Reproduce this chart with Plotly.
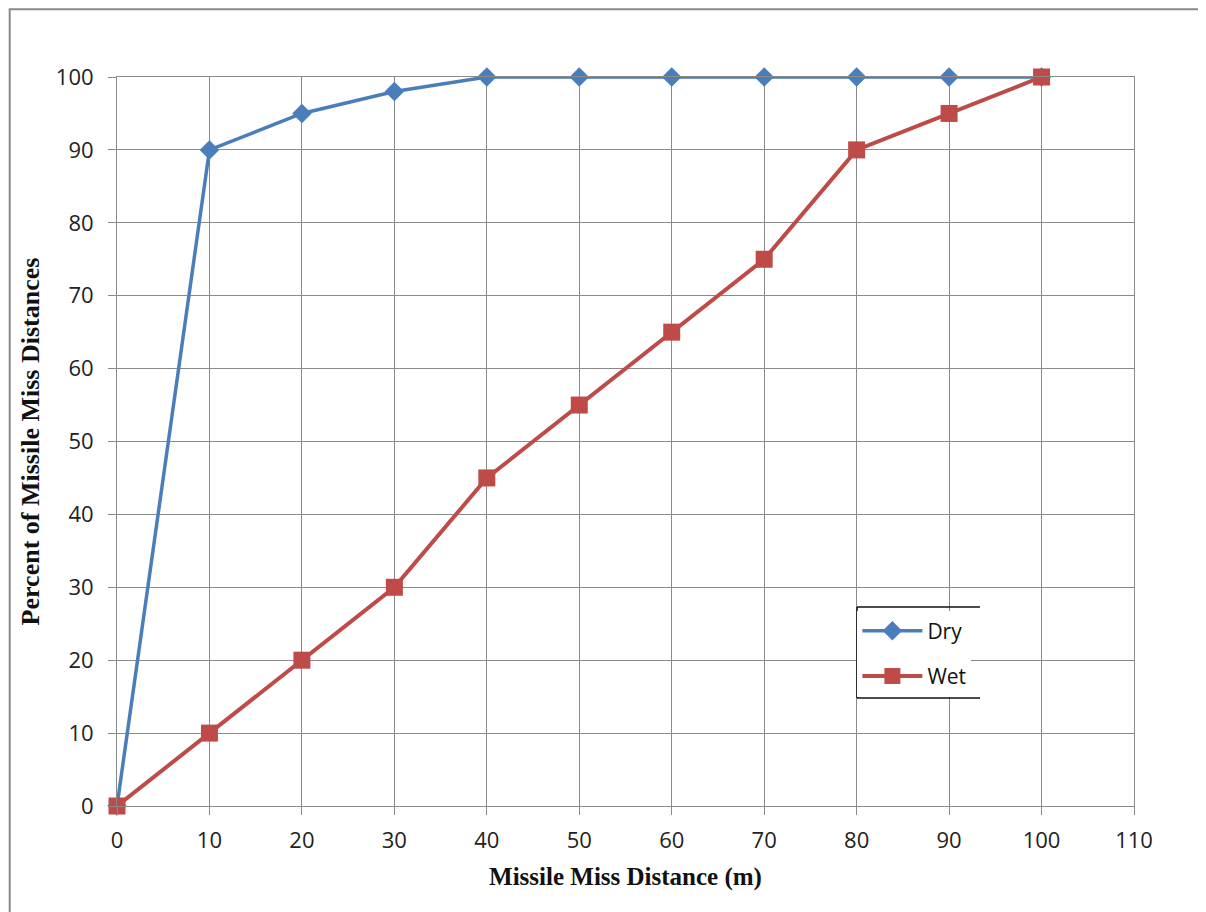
import plotly.graph_objects as go

distance = [0, 10, 20, 30, 40, 50, 60, 70, 80, 90, 100]
dry = [0, 90, 95, 98, 100, 100, 100, 100, 100, 100, 100]
wet = [0, 10, 20, 30, 45, 55, 65, 75, 90, 95, 100]

fig = go.Figure()
fig.add_trace(go.Scatter(x=distance, y=dry, name="Dry", mode="lines+markers", legendgroup="a",
                         line=dict(color="#4a7ebb", width=3.5),
                         marker=dict(symbol="diamond", size=15, color="#4a7ebb")))
fig.add_trace(go.Scatter(x=distance, y=wet, name="Wet", mode="lines+markers", legendgroup="b",
                         line=dict(color="#be4b48", width=4),
                         marker=dict(symbol="square", size=17, color="#be4b48")))

gridc = "#8a8a8a"
fig.update_layout(
    width=1206, height=912,
    margin=dict(l=109, r=80, t=69, b=114),
    paper_bgcolor="white", plot_bgcolor="white",
    font=dict(family="Open Sans, Liberation Sans, sans-serif", size=22, color="#222"),
    xaxis=dict(range=[0, 110], tickvals=list(range(0, 111, 10)), showgrid=True, gridcolor=gridc,
               gridwidth=1, showline=True, linecolor=gridc, mirror=True, ticks="outside",
               ticklen=8, tickcolor=gridc, zeroline=False, ticklabelstandoff=7,
               title=dict(text="<b>Missile Miss Distance (m)</b>",
                          font=dict(family="Liberation Serif, Times New Roman, serif", size=25, color="#111"),
                          standoff=14)),
    yaxis=dict(range=[0, 100], tickvals=list(range(0, 101, 10)), showgrid=True, gridcolor=gridc,
               gridwidth=1, showline=True, linecolor=gridc, mirror=True, ticks="outside",
               ticklen=8, tickcolor=gridc, zeroline=False, ticklabelstandoff=10,
               title=dict(text="<b>Percent of Missile Miss Distances</b>",
                          font=dict(family="Liberation Serif, Times New Roman, serif", size=26, color="#111"),
                          standoff=8)),
    legend=dict(x=0.728, y=0.268, xanchor="left", yanchor="top", bgcolor="white",
                font=dict(size=21, color="#111"), itemwidth=60, tracegroupgap=15),
    showlegend=True,
)
fig.update_traces(cliponaxis=False)

# outer chart border
fig.add_shape(type="rect", xref="paper", yref="paper", x0=-0.1055, x1=1.08, y0=-0.16, y1=1.093,
              line=dict(color="#888888", width=2), fillcolor="rgba(0,0,0,0)", layer="below")
# legend box lines (top, left, bottom)
lx0 = (857 - 117) / 1017
lx1 = (980 - 117) / 1017
ly1 = (806 - 607) / 729
ly0 = (806 - 698) / 729
for (a, b, c, d) in [(lx0, ly1, lx1, ly1), (lx0, ly0, lx1, ly0), (lx0, ly0, lx0, ly1)]:
    fig.add_shape(type="line", xref="paper", yref="paper", x0=a, y0=b, x1=c, y1=d,
                  line=dict(color="#111", width=1.5), layer="above")

fig.write_html("out.html")
